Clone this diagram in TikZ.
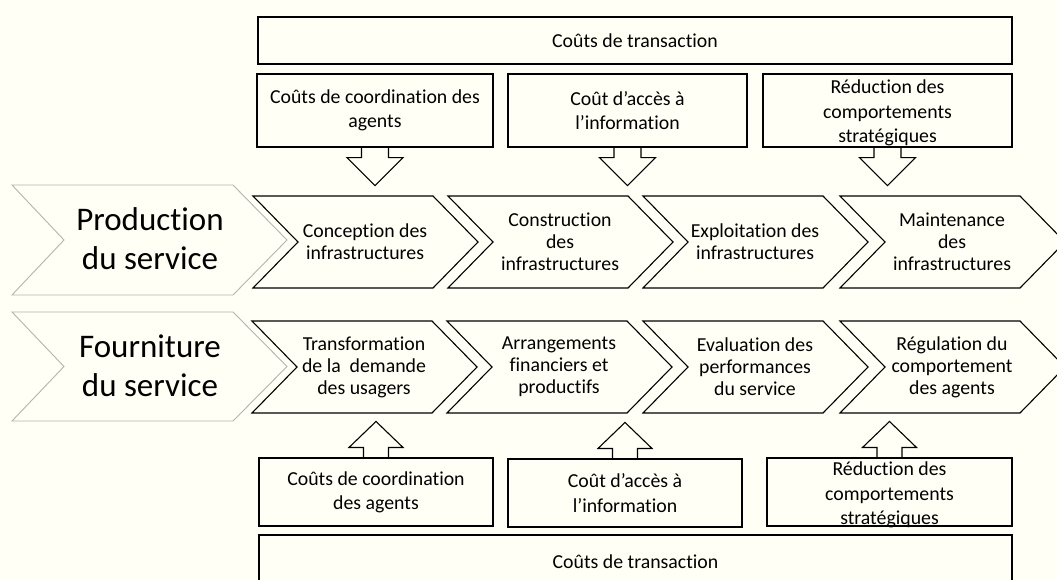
\documentclass[tikz,border=0pt]{standalone}
\usepackage{fontspec}
\setmainfont{Carlito}[Ligatures={NoCommon}]
\definecolor{paper}{RGB}{255,255,245}
\definecolor{ghost}{RGB}{180,180,176}

% stage chevron: #1 left x, #2 top y, #3 bottom y
\newcommand\stagechevron[3]{%
  \draw[stage] (#1,#2) -- ({#1+180},#2) -- ({#1+225},{(#2+#3)/2})
    -- ({#1+180},#3) -- (#1,#3) -- ({#1+45},{(#2+#3)/2}) -- cycle;}
% phase chevron (grey outline): #1 top y, #2 bottom y
\newcommand\phasechevron[2]{%
  \draw[phase] (12,#1) -- (233,#1) -- (287,{(#1+#2)/2})
    -- (233,#2) -- (12,#2) -- (64,{(#1+#2)/2}) -- cycle;}
% block arrow pointing down from the bottom of a box
\newcommand\downblock[1]{%
  \draw[blockarrow] (#1.south) ++(-13.5,0) -- ++(0,10) -- ++(-14.5,0)
    -- ++(28,28) -- ++(28,-28) -- ++(-14.5,0) -- ++(0,-10);}
% block arrow pointing up from the top of a box
\newcommand\upblock[1]{%
  \draw[blockarrow] (#1.north) ++(-12.5,0) -- ++(0,-10) -- ++(-14.5,0)
    -- ++(27,-26) -- ++(27,26) -- ++(-14.5,0) -- ++(0,10);}

\begin{document}
\begin{tikzpicture}[x=1pt,y=-1pt,
  box/.style={draw=black, line width=1.1pt, fill=paper, rectangle,
    inner sep=0pt, align=center, font=\fontsize{19.8}{24.2}\selectfont},
  boxframe/.style={draw=black, line width=1.1pt, fill=paper, rectangle, inner sep=0pt},
  label/.style={align=center, inner sep=0pt, font=\fontsize{19.8}{22}\selectfont},
  boxlabel/.style={align=center, inner sep=0pt, font=\fontsize{19.8}{24.2}\selectfont},
  biglabel/.style={align=center, inner sep=0pt, font=\fontsize{33}{39}\selectfont},
  stage/.style={draw=black, line width=1.1pt, fill=paper, line join=miter},
  phase/.style={draw=ghost, line width=0.9pt, fill=paper, line join=miter},
  blockarrow/.style={draw=black, line width=1.1pt, line join=miter}]

\useasboundingbox (0,0) rectangle (1057,579);
\fill[paper] (0,0) rectangle (1057,579);
\clip (0,0) rectangle (1057,579);

% ---- top cost boxes
\node[box, minimum width=754pt, minimum height=47pt] (tt) at (635,40.5) {Coûts de transaction};
\node[box, minimum width=236pt, minimum height=73pt] (t1) at (375,110.5) {Coûts de coordination des\\agents};
\node[box, minimum width=239pt, minimum height=73pt] (t2) at (627.5,110.5) {Coût d’accès à\\l’information};
\node[boxframe, minimum width=249pt, minimum height=73pt] (t3) at (887.5,110.5) {};
\node[boxlabel] (t3txt) at (887.5,113) {Réduction des\\comportements\\stratégiques};
\downblock{t1}
\downblock{t2}
\downblock{t3}

% ---- phases
\phasechevron{185}{295}
\node[biglabel] (prod) at (150,239) {Production\\du service};
\phasechevron{312}{421}
\node[biglabel] (four) at (150,366) {Fourniture\\du service};

% ---- production stages
\stagechevron{253}{196}{288}
\stagechevron{448}{196}{288}
\stagechevron{643}{196}{288}
\stagechevron{840}{196}{288}
\node[label] (p1) at (365,242) {Conception des\\infrastructures};
\node[label] (p2) at (560,242) {Construction\\des\\infrastructures};
\node[label] (p3) at (755,242) {Exploitation des\\infrastructures};
\node[label] (p4) at (952,242) {Maintenance\\des\\infrastructures};

% ---- supply stages
\stagechevron{252}{321}{413}
\stagechevron{447}{321}{413}
\stagechevron{643}{321}{413}
\stagechevron{840}{321}{413}
\node[label] (f1) at (364,367) {Transformation\\de la~ demande\\des usagers};
\node[label] (f2) at (559,367) {Arrangements\\financiers et\\productifs};
\node[label] (f3) at (755,367) {Evaluation des\\performances\\du service};
\node[label] (f4) at (952,367) {Régulation du\\comportement\\des agents};

% ---- bottom cost boxes
\node[box, minimum width=234pt, minimum height=68pt] (b1) at (376,492) {Coûts de coordination\\des agents};
\node[box, minimum width=234pt, minimum height=68pt] (b2) at (625,493) {Coût d’accès à\\l’information};
\node[boxframe, minimum width=245pt, minimum height=68pt] (b3) at (889.5,492) {};
\node[boxlabel] (b3txt) at (889.5,495) {Réduction des\\comportements\\stratégiques};
\node[box, minimum width=753pt, minimum height=54pt] (bt) at (635.5,562) {Coûts de transaction};
\upblock{b1}
\upblock{b2}
\upblock{b3}
\end{tikzpicture}
\end{document}
